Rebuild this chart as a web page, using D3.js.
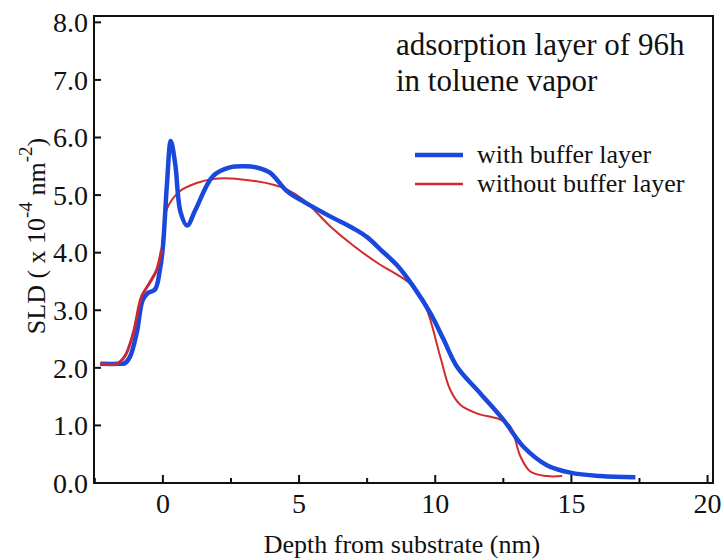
<!DOCTYPE html>
<html>
<head>
<meta charset="utf-8">
<script src="https://cdn.jsdelivr.net/npm/d3@7"></script>
<style>
  body { margin: 0; background: #fff; }
  text { font-family: "Liberation Serif", "Times New Roman", serif; fill: #111; }
</style>
</head>
<body>
<script>
// data (depth nm, SLD x1e-4 nm^-2)
const withDepth = [-2.3, -1.6, -1.4, -1.21, -0.96, -0.74, -0.55, -0.29, -0.11, 0.0, 0.15, 0.29, 0.45, 0.65, 0.89, 1.2, 1.84, 2.46, 3.0, 3.44, 3.93, 4.55, 5.15, 6.14, 7.0, 7.5, 8.0, 8.6, 9.2, 9.82, 10.3, 10.8, 11.65, 12.5, 13.24, 14.1, 14.96, 16.07, 17.35];
const withSLD   = [2.07, 2.07, 2.08, 2.19, 2.61, 3.18, 3.30, 3.36, 3.70, 4.1, 5.2, 5.94, 5.55, 4.7, 4.47, 4.75, 5.33, 5.48, 5.5, 5.48, 5.39, 5.07, 4.89, 4.63, 4.42, 4.27, 4.05, 3.78, 3.41, 2.95, 2.5, 2.02, 1.56, 1.10, 0.63, 0.31, 0.18, 0.12, 0.10];

const withoutDepth = [-2.3, -1.7, -1.4, -1.09, -0.78, -0.48, -0.23, -0.05, 0.14, 0.63, 1.24, 1.85, 2.46, 3.44, 4.06, 4.55, 5.16, 6.14, 7.0, 7.98, 8.6, 9.2, 9.69, 10.18, 10.55, 10.92, 11.53, 12.39, 12.76, 13.13, 13.49, 14.1, 14.66];
const withoutSLD   = [2.07, 2.07, 2.2, 2.6, 3.24, 3.48, 3.70, 4.05, 4.75, 5.07, 5.21, 5.28, 5.29, 5.24, 5.18, 5.10, 4.92, 4.46, 4.12, 3.79, 3.62, 3.41, 3.01, 2.20, 1.62, 1.36, 1.21, 1.10, 0.98, 0.46, 0.20, 0.12, 0.12];

const xTicks = [0, 5, 10, 15, 20];
const xMinor = [-2.5, 2.5, 7.5, 12.5, 17.5];
const yTicks = [0, 1, 2, 3, 4, 5, 6, 7, 8];

const width = 724;
const height = 560;
const marginLeft = 94;
const marginRight = 11;
const marginTop = 16;
const marginBottom = 77;

const svg = d3.select('body')
  .append('svg')
  .attr('width', width)
  .attr('height', height);

const x = d3.scaleLinear()
  .domain([-2.53, 20.2])
  .range([marginLeft, width - marginRight]);

const y = d3.scaleLinear()
  .domain([0, 8.11])
  .range([height - marginBottom, marginTop]);

// frame
svg.append('rect')
  .attr('x', marginLeft)
  .attr('y', marginTop)
  .attr('width', width - marginRight - marginLeft)
  .attr('height', height - marginBottom - marginTop)
  .attr('fill', 'none')
  .attr('stroke', '#111')
  .attr('stroke-width', 2);

// x ticks point inward
const xAxis = svg.append('g')
  .attr('transform', 'translate(0,' + (height - marginBottom) + ')');

xAxis.selectAll('line.major')
  .data(xTicks)
  .enter().append('line')
  .attr('class', 'major')
  .attr('x1', d => x(d)).attr('x2', d => x(d))
  .attr('y1', 0).attr('y2', -8)
  .attr('stroke', '#111').attr('stroke-width', 2);

xAxis.selectAll('line.minor')
  .data(xMinor)
  .enter().append('line')
  .attr('class', 'minor')
  .attr('x1', d => x(d)).attr('x2', d => x(d))
  .attr('y1', 0).attr('y2', -5)
  .attr('stroke', '#111').attr('stroke-width', 2);

xAxis.selectAll('text')
  .data(xTicks)
  .enter().append('text')
  .attr('x', d => x(d))
  .attr('y', 30)
  .attr('text-anchor', 'middle')
  .attr('font-size', 28)
  .text(d => d);

// y ticks
const yAxis = svg.append('g')
  .attr('transform', 'translate(' + marginLeft + ',0)');

yAxis.selectAll('line')
  .data(yTicks)
  .enter().append('line')
  .attr('x1', 0).attr('x2', 7)
  .attr('y1', d => y(d)).attr('y2', d => y(d))
  .attr('stroke', '#111').attr('stroke-width', 2);

yAxis.selectAll('text')
  .data(yTicks)
  .enter().append('text')
  .attr('x', -6)
  .attr('y', d => y(d))
  .attr('dy', '0.35em')
  .attr('text-anchor', 'end')
  .attr('font-size', 28)
  .text(d => d3.format('.1f')(d));

// axis titles
svg.append('text')
  .attr('x', 402)
  .attr('y', 553)
  .attr('text-anchor', 'middle')
  .attr('font-size', 26)
  .text('Depth from substrate (nm)');

const yTitle = svg.append('text')
  .attr('transform', 'translate(45,236) rotate(-90)')
  .attr('text-anchor', 'middle')
  .attr('font-size', 26);
yTitle.append('tspan').text('SLD ( x 10');
yTitle.append('tspan').attr('font-size', 19).attr('dy', -13).text('-4');
yTitle.append('tspan').attr('dy', 13).text(' nm');
yTitle.append('tspan').attr('font-size', 19).attr('dy', -13).text('-2');
yTitle.append('tspan').attr('dy', 13).text(')');

// curves
const line = d3.line()
  .x(d => x(d[0]))
  .y(d => y(d[1]))
  .curve(d3.curveCatmullRom.alpha(0.5));

svg.append('path')
  .datum(d3.zip(withoutDepth, withoutSLD))
  .attr('d', line)
  .attr('fill', 'none')
  .attr('stroke', '#d42a2a')
  .attr('stroke-width', 2);

svg.append('path')
  .datum(d3.zip(withDepth, withSLD))
  .attr('d', line)
  .attr('fill', 'none')
  .attr('stroke', '#1a48dc')
  .attr('stroke-width', 4.5);

// the red start sits on top of the blue in the picture
svg.append('path')
  .datum(d3.zip(withoutDepth, withoutSLD).slice(0, 8))
  .attr('d', line)
  .attr('fill', 'none')
  .attr('stroke', '#c42a3a')
  .attr('stroke-width', 3);

// annotation
svg.append('text')
  .attr('x', 396).attr('y', 55)
  .attr('font-size', 31)
  .text('adsorption layer of 96h');
svg.append('text')
  .attr('x', 396).attr('y', 91)
  .attr('font-size', 31)
  .text('in toluene vapor');

// legend
const legend = [
  { name: 'with buffer layer', color: '#1a48dc', w: 4.5, y: 155 },
  { name: 'without buffer layer', color: '#d42a2a', w: 2.5, y: 184 }
];
const lg = svg.selectAll('g.legend')
  .data(legend)
  .enter().append('g')
  .attr('class', 'legend');
lg.append('line')
  .attr('x1', 415).attr('x2', 463)
  .attr('y1', d => d.y).attr('y2', d => d.y)
  .attr('stroke', d => d.color)
  .attr('stroke-width', d => d.w);
lg.append('text')
  .attr('x', 477).attr('y', d => d.y + 8)
  .attr('font-size', 26)
  .text(d => d.name);
</script>
</body>
</html>
